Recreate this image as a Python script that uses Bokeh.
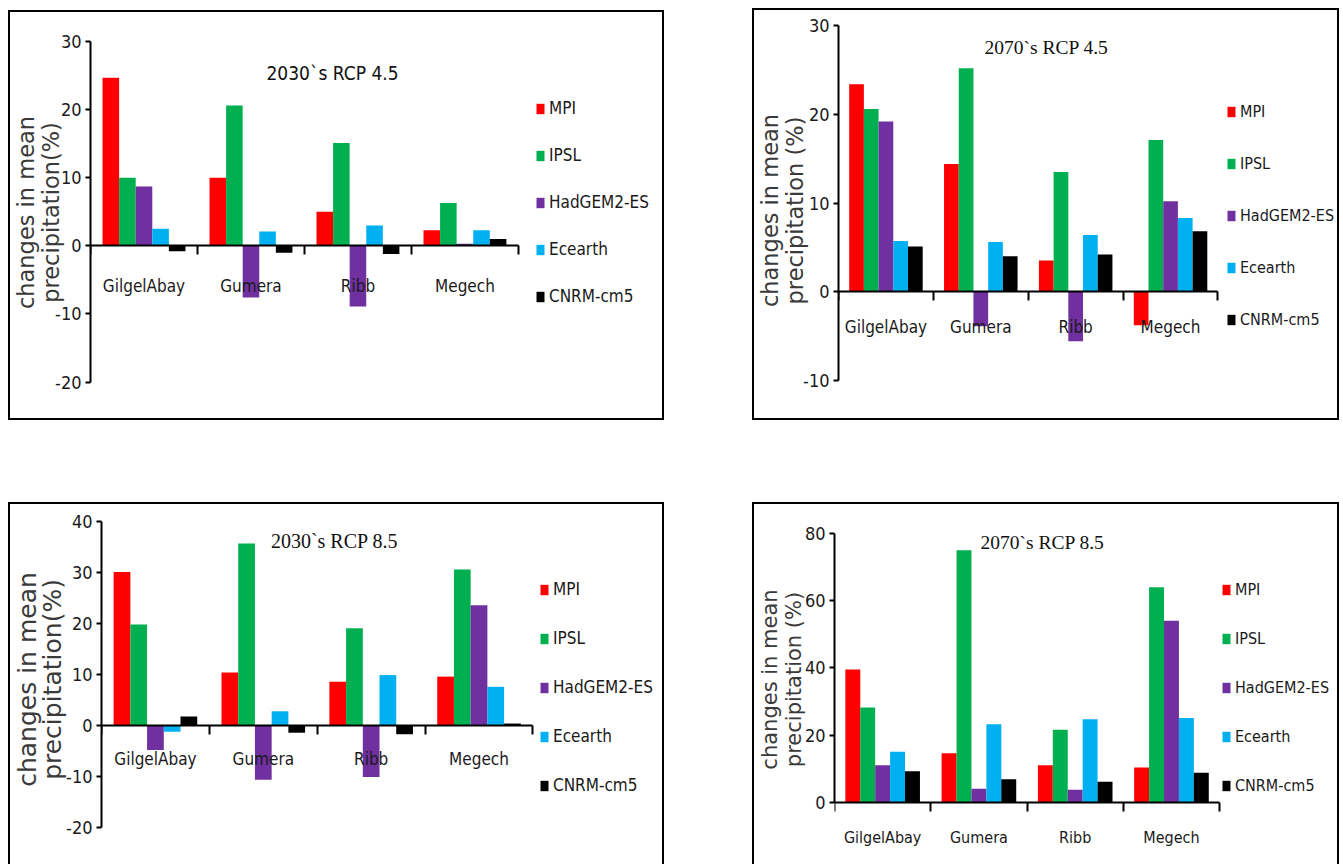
import numpy as np
from bokeh.plotting import figure
from bokeh.models import (ColumnDataSource, Range1d, LinearAxis, FixedTicker,
                          Legend, LegendItem, Label, Spacer)
from bokeh.layouts import row, column
from bokeh.transform import dodge
from bokeh.core.properties import value
from bokeh.embed import file_html
from bokeh.resources import INLINE

# ---------------- data ----------------
categories = ["GilgelAbay", "Gumera", "Ribb", "Megech"]
models = ["MPI", "IPSL", "HadGEM2-ES", "Ecearth", "CNRM-cm5"]
colors = ["#FF0000", "#00B050", "#7030A0", "#00B0F0", "#000000"]

# 2030`s RCP 4.5
r45_2030_mpi = [24.7, 10.0, 5.0, 2.3]
r45_2030_ipsl = [10.0, 20.6, 15.1, 6.3]
r45_2030_had = [8.7, -7.6, -8.9, 0.3]
r45_2030_ece = [2.5, 2.1, 3.0, 2.3]
r45_2030_cnrm = [-0.8, -1.0, -1.2, 1.0]
r45_2030_yticks = [-20, -10, 0, 10, 20, 30]

# 2070`s RCP 4.5
r45_2070_mpi = [23.4, 14.4, 3.5, -3.8]
r45_2070_ipsl = [20.6, 25.2, 13.5, 17.1]
r45_2070_had = [19.2, -3.9, -5.6, 10.2]
r45_2070_ece = [5.7, 5.6, 6.4, 8.3]
r45_2070_cnrm = [5.1, 4.0, 4.2, 6.8]
r45_2070_yticks = [-10, 0, 10, 20, 30]

# 2030`s RCP 8.5
r85_2030_mpi = [30.0, 10.3, 8.5, 9.5]
r85_2030_ipsl = [19.7, 35.6, 19.0, 30.5]
r85_2030_had = [-4.9, -10.7, -10.2, 23.5]
r85_2030_ece = [-1.3, 2.7, 9.8, 7.5]
r85_2030_cnrm = [1.7, -1.5, -1.8, 0.3]
r85_2030_yticks = [-20, -10, 0, 10, 20, 30, 40]

# 2070`s RCP 8.5
r85_2070_mpi = [39.5, 14.6, 11.0, 10.3]
r85_2070_ipsl = [28.2, 75.0, 21.6, 64.0]
r85_2070_had = [11.0, 4.0, 3.7, 54.0]
r85_2070_ece = [15.0, 23.2, 24.7, 25.1]
r85_2070_cnrm = [9.2, 6.8, 6.1, 8.8]
r85_2070_yticks = [0, 20, 40, 60, 80]

NARROW = "DejaVu Sans Condensed"
SERIF = "Liberation Serif"
LABELFONT = "DejaVu Sans"
BAR_W = 0.155


def make_panel(title, title_font, title_size, title_pos, series, yticks, ylabel,
               ylabel_style, size, borders, xr, yr, legend_geom,
               cat_off, cat_size, styles):
    W, H = size
    mbl, mbr, mbt, mbb = borders
    lab_size, lab_lh, lab_standoff = ylabel_style
    n = len(categories)
    p = figure(width=W, height=H, x_range=Range1d(*xr), y_range=Range1d(*yr),
               x_axis_location=None, toolbar_location=None,
               output_backend="svg", min_border_left=mbl, min_border_right=mbr,
               min_border_top=mbt, min_border_bottom=mbb)
    p.outline_line_color = None
    p.xgrid.visible = False
    p.ygrid.visible = False
    p.background_fill_color = "white"
    p.border_fill_color = "white"
    p.styles = styles

    centers = np.arange(n) + 0.5
    data = {"x": centers, "cat": categories}
    for m, vals in zip(models, series):
        data[m] = vals
    src = ColumnDataSource(data)

    rends = []
    for j, (m, c) in enumerate(zip(models, colors)):
        r = p.vbar(x=dodge("x", (j - 2) * BAR_W, range=None), top=m, bottom=0,
                   width=BAR_W, source=src, fill_color=c, line_color=None)
        rends.append(r)

    # category names under the zero line
    p.text(x="x", y=0, text="cat", source=src, y_offset=cat_off,
           text_align="center", text_baseline="middle",
           text_font=value(NARROW), text_font_size=value(cat_size),
           text_color="#1a1a1a")

    # y axis
    ya = p.yaxis[0]
    ya.ticker = FixedTicker(ticks=yticks)
    ya.bounds = (yticks[0], yticks[-1])
    ya.major_label_overrides = {t: str(t) for t in yticks}
    ya.axis_line_width = 2
    ya.axis_line_color = "black"
    ya.major_tick_line_width = 2
    ya.major_tick_in = 0
    ya.major_tick_out = 5
    ya.minor_tick_line_color = None
    ya.major_label_text_font = NARROW
    ya.major_label_text_font_size = "18px"
    ya.major_label_text_color = "#1a1a1a"
    ya.major_label_standoff = 4
    ya.axis_label = ylabel
    ya.axis_label_text_font = LABELFONT
    ya.axis_label_text_font_size = lab_size
    ya.axis_label_text_font_style = "normal"
    ya.axis_label_text_color = "#3a3a3a"
    ya.axis_label_text_line_height = lab_lh
    ya.axis_label_standoff = lab_standoff

    # x axis at zero with ticks between categories
    bx = LinearAxis(ticker=FixedTicker(ticks=[], minor_ticks=list(range(n + 1))),
                    fixed_location=0, bounds=(0, n),
                    major_tick_in=0, major_tick_out=0, major_label_standoff=0,
                    minor_tick_in=0, minor_tick_out=9, minor_tick_line_width=2,
                    minor_tick_line_color="black", axis_line_width=2,
                    axis_line_color="black")
    p.add_layout(bx, "below")

    lx_off, ly_off, spacing, lsize = legend_geom
    legend = Legend(items=[LegendItem(label=m, renderers=[r]) for m, r in zip(models, rends)],
                    location=(lx_off, ly_off), orientation="vertical",
                    border_line_color=None, background_fill_alpha=0,
                    padding=0, margin=0, spacing=spacing, glyph_width=10,
                    glyph_height=13, label_height=20, label_standoff=4,
                    label_text_font=NARROW, label_text_font_size=lsize,
                    label_text_color="#1a1a1a")
    p.add_layout(legend)

    tx, ty = title_pos
    p.add_layout(Label(x=tx, y=ty, x_units="screen", y_units="screen", text=title,
                       text_align="center", text_baseline="middle",
                       text_font=title_font, text_font_size=title_size,
                       text_color="#111111"))
    return p


full_border = {"border": "2px solid black"}
open_border = {"border-top": "2px solid black", "border-left": "2px solid black",
               "border-right": "2px solid black"}

p1 = make_panel("2030`s RCP 4.5", NARROW, "19px", (242, 336),
                [r45_2030_mpi, r45_2030_ipsl, r45_2030_had, r45_2030_ece, r45_2030_cnrm],
                r45_2030_yticks, "changes in mean\nprecipitation(%)", ("22.5px", 0.95, -12),
                (656, 410), (80, 0, 4, 14), (0, 5.384), (-23.89, 33.68),
                (445, 102, 27, "17px"), 40, "17px", full_border)

p2 = make_panel("2070`s RCP 4.5", SERIF, "19.5px", (208, 361),
                [r45_2070_mpi, r45_2070_ipsl, r45_2070_had, r45_2070_ece, r45_2070_cnrm],
                r45_2070_yticks, "changes in mean\nprecipitation (%)", ("22.5px", 0.95, -8),
                (587, 412), (83, 0, 2, 14), (0, 5.302), (-13.19, 31.5),
                (388, 79, 32, "16px"), 35, "17px", full_border)

p3 = make_panel("2030`s RCP 8.5", SERIF, "20px", (233, 312),
                [r85_2030_mpi, r85_2030_ipsl, r85_2030_had, r85_2030_ece, r85_2030_cnrm],
                r85_2030_yticks, "changes in mean\nprecipitation(%)", ("25px", 0.85, -4),
                (656, 362), (90, 0, 2, 14), (0, 5.238), (-24.99, 42.86),
                (438, 57, 29, "17px"), 34, "17px", open_border)

p4 = make_panel("2070`s RCP 8.5", SERIF, "19.5px", (208, 310),
                [r85_2070_mpi, r85_2070_ipsl, r85_2070_had, r85_2070_ece, r85_2070_cnrm],
                r85_2070_yticks, "changes in mean\nprecipitation (%)", ("21px", 1.0, -4),
                (587, 362), (79, 0, 2, 14), (0, 5.266), (-14.96, 88.0),
                (387, 57, 29, "16px"), 35, "16px", open_border)

layout = column(
    Spacer(height=8),
    row(Spacer(width=8), column(Spacer(height=2), p1), Spacer(width=88), p2),
    Spacer(height=82),
    row(Spacer(width=8), p3, Spacer(width=88), p4),
)

open("out.html", "w").write(file_html(layout, INLINE))
